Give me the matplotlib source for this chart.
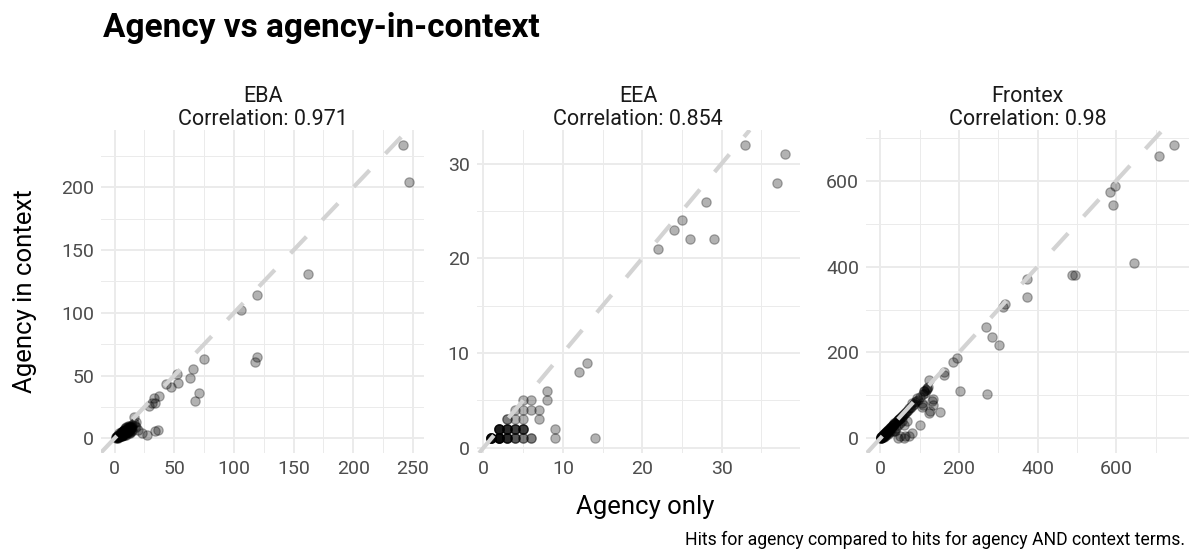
import matplotlib
matplotlib.use("Agg")
import matplotlib.pyplot as plt
from matplotlib.ticker import MultipleLocator

plt.rcParams["font.family"] = ["Roboto", "DejaVu Sans"]

# panel labels as shown in the facet strips
panel_titles = ["EBA\nCorrelation: 0.971", "EEA\nCorrelation: 0.854", "Frontex\nCorrelation: 0.98"]

# EBA: agency only (x) vs agency in context (y)
eba_x = [1, 1, 2, 2, 3, 3, 3, 4, 4, 4, 5, 5, 5, 6, 6, 6, 7, 7, 7, 8, 8, 8, 9, 9, 9, 10, 10, 10,
         11, 11, 11, 12, 12, 12, 13, 13, 13, 14, 14, 15, 15, 15, 16, 17, 18, 2, 3, 4, 5, 6, 7, 8,
         9, 10, 11, 12, 1, 2, 3, 4, 5, 6, 7, 8, 9, 10,
         2, 3, 4, 5, 6, 7, 8, 9, 10, 11, 12, 13, 14, 3, 5, 7, 9, 11, 13, 15, 6, 8, 10, 12,
         16, 18, 20, 23, 27, 29, 31, 33, 34, 37, 34, 36, 43, 47, 53, 52, 63, 66, 67, 71, 75,
         106, 118, 119, 119, 162, 242, 247]
eba_y = [0, 1, 1, 2, 1, 2, 3, 2, 3, 4, 3, 4, 5, 4, 5, 2, 4, 6, 3, 5, 7, 4, 6, 8, 3, 6, 9, 4,
         7, 10, 5, 8, 6, 10, 9, 7, 4, 10, 8, 11, 9, 6, 12, 10, 9, 0, 0, 1, 2, 3, 5, 6,
         5, 7, 8, 9, 1, 1, 2, 3, 4, 5, 6, 7, 7, 8,
         1, 2, 2, 3, 4, 4, 5, 6, 6, 7, 7, 8, 9, 1, 2, 3, 4, 5, 5, 7, 2, 3, 3, 4,
         17, 13, 7, 4, 3, 26, 28, 32, 28, 34, 6, 7, 43, 41, 44, 51, 48, 55, 30, 36, 63,
         102, 61, 65, 114, 131, 234, 204]

# EEA: small integer counts, many repeats near the origin
eea_x = [1] * 8 + [2] * 8 + [3] * 5 + [4] * 3 + [5] * 2 + [6] * 2 + [2] * 6 + [3] * 5 + [4] * 4 + [5] * 4 + \
        [3, 3, 4, 5, 7, 4, 5, 6, 7, 5, 6, 8, 8, 9, 9, 14, 12, 13, 22, 24, 25, 26, 28, 29, 33, 37, 38]
eea_y = [1] * 8 + [1] * 8 + [1] * 5 + [1] * 3 + [1] * 2 + [1] * 2 + [2] * 6 + [2] * 5 + [2] * 4 + [2] * 4 + \
        [3, 3, 3, 3, 3, 4, 4, 4, 4, 5, 5, 5, 6, 1, 2, 1, 8, 9, 21, 23, 24, 22, 26, 22, 32, 28, 31]

# Frontex
frontex_x = [1, 2, 2, 3, 3, 4, 4, 5, 5, 6, 6, 7, 8, 8, 9, 10, 10, 11, 12, 12, 13, 14, 15, 15, 16, 17,
             18, 19, 20, 20, 22, 23, 24, 25, 26, 27, 28, 30, 31, 32, 33, 35, 36, 38, 40, 42, 44, 45,
             47, 48, 50, 52, 54, 55, 57, 60, 62, 65, 68, 70, 72, 75, 78, 82, 85, 88, 90, 95, 100,
             10, 15, 20, 25, 30, 35, 40, 45, 50, 55, 60, 5, 8, 12, 18, 22, 28, 3, 6, 1, 2,
             112, 115, 118, 120, 122, 114, 108,
             748, 708, 596, 583, 591, 645, 487, 494, 373, 374, 317, 311, 269, 285, 302, 196, 184,
             162, 161, 203, 272, 125, 112, 135, 134, 123, 127, 152, 100, 108, 93, 80, 106, 80, 72,
             64, 51, 38, 131, 106, 68, 59, 46]
frontex_y = [1, 1, 2, 2, 3, 3, 4, 4, 5, 5, 6, 6, 7, 8, 8, 9, 10, 10, 11, 12, 12, 13, 14, 15, 15, 16,
             17, 18, 19, 20, 20, 22, 23, 24, 25, 26, 26, 28, 30, 31, 30, 33, 35, 36, 38, 40, 42, 43,
             45, 44, 48, 50, 52, 50, 55, 56, 60, 62, 64, 66, 70, 70, 74, 78, 80, 84, 88, 90, 96,
             4, 8, 10, 15, 20, 18, 25, 30, 35, 40, 30, 2, 3, 6, 12, 14, 22, 1, 3, 0, 0,
             110, 112, 115, 117, 120, 106, 103,
             684, 657, 587, 573, 544, 408, 381, 381, 370, 330, 313, 307, 260, 235, 218, 187, 177,
             155, 147, 110, 103, 135, 110, 91, 78, 60, 64, 62, 31, 78, 95, 83, 72, 13, 5,
             5, 5, 17, 87, 83, 40, 1, 1]

panels = [(eba_x, eba_y, 50), (eea_x, eea_y, 10), (frontex_x, frontex_y, 200)]

grid_col = "#EBEBEB"
tick_col = "#4D4D4D"


def expanded(values):
    lo, hi = min(values), max(values)
    pad = (hi - lo) * 0.05
    return lo - pad, hi + pad


def draw_panel(ax, xs, ys, step, title):
    ax.scatter(xs, ys, s=45, color="black", alpha=0.3, linewidths=0.9, zorder=2)
    ax.set_xlim(*expanded(xs))
    ax.set_ylim(*expanded(ys))
    ax.axline((0, 0), slope=1, color="#D3D3D3", lw=3, dashes=(5.5, 5.5), zorder=3)
    ax.xaxis.set_major_locator(MultipleLocator(step))
    ax.yaxis.set_major_locator(MultipleLocator(step))
    ax.xaxis.set_minor_locator(MultipleLocator(step / 2))
    ax.yaxis.set_minor_locator(MultipleLocator(step / 2))
    ax.grid(which="major", color=grid_col, lw=1.4, zorder=0)
    ax.grid(which="minor", color=grid_col, lw=0.7, zorder=0)
    ax.set_axisbelow(True)
    for s in ax.spines.values():
        s.set_visible(False)
    ax.tick_params(which="both", length=0, labelsize=14, labelcolor=tick_col, pad=5)
    ax.set_title(title, fontsize=15.5, pad=2, linespacing=1.1, color="#1A1A1A")


fig = plt.figure(figsize=(11.96, 5.59), dpi=100)
lefts = [0.0845, 0.3986, 0.7241]
for left, (xs, ys, step), title in zip(lefts, panels, panel_titles):
    ax = fig.add_axes([left, 0.1896, 0.2701, 0.5778])
    draw_panel(ax, xs, ys, step, title)

fig.text(0.086, 0.95, "Agency vs agency-in-context", fontsize=24, fontweight="bold", va="center", ha="left")
fig.text(0.5397, 0.093, "Agency only", fontsize=18.5, ha="center", va="center")
fig.text(0.021, 0.4785, "Agency in context", fontsize=18.5, rotation=90, ha="center", va="center")
fig.text(0.991, 0.034, "Hits for agency compared to hits for agency AND context terms.",
         fontsize=12.7, ha="right", va="center")

fig.savefig("out.png", dpi=100)
